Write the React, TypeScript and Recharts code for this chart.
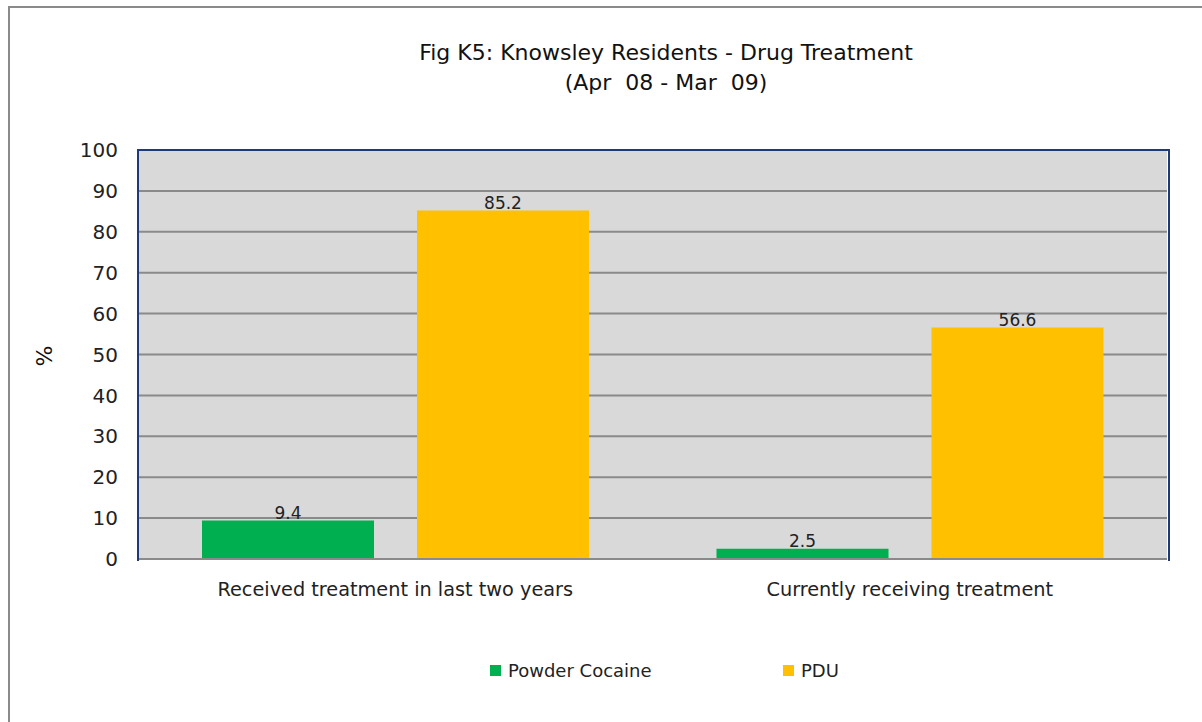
import { BarChart, Bar, XAxis, YAxis, CartesianGrid, LabelList } from "recharts";

const categories = ["Received treatment in last two years", "Currently receiving treatment"];
const powderCocaine = [9.4, 2.5];
const pdu = [85.2, 56.6];
const yTicks = [0, 10, 20, 30, 40, 50, 60, 70, 80, 90, 100];

const data = categories.map((name, i) => ({
  name,
  cocaine: powderCocaine[i],
  pdu: pdu[i],
}));

const GREEN = "#00B050";
const YELLOW = "#FFC000";
const NAVY = "#1F3A7A";
const FONT = "'DejaVu Sans', sans-serif";

export default function App() {
  return (
    <div style={{ position: "absolute", left: 0, top: 0, width: 1202, height: 722, overflow: "hidden", background: "#fff", fontFamily: FONT }}>
      <div
        style={{
          position: "absolute",
          left: 8,
          top: 6,
          width: 1210,
          height: 730,
          border: "2px solid #8a8a8a",
        }}
      />
      <div
        style={{
          position: "absolute",
          left: 0,
          width: 1332,
          top: 38,
          textAlign: "center",
          fontSize: 22,
          lineHeight: "30px",
          color: "#111",
        }}
      >
        Fig K5: Knowsley Residents - Drug Treatment
        <br />
        (Apr&nbsp; 08 - Mar&nbsp; 09)
      </div>
      <div
        style={{
          position: "absolute",
          left: 32,
          top: 343,
          width: 26,
          height: 26,
          transform: "rotate(-90deg)",
          fontSize: 22,
          textAlign: "center",
          lineHeight: "26px",
          color: "#111",
        }}
      >
        %
      </div>
      <div style={{ position: "absolute", left: 0, top: 0 }}>
        <BarChart
          width={1202}
          height={722}
          data={data}
          margin={{ top: 150, right: 35, bottom: 123, left: 78 }}
          barGap={43}
        >
          <CartesianGrid
            vertical={false}
            fill="#D9D9D9"
            fillOpacity={1}
            stroke="#8a8a8a"
            strokeWidth={2}
          />
          <XAxis
            dataKey="name"
            height={40}
            tickLine={false}
            tickSize={0}
            tickMargin={23}
            axisLine={{ stroke: "#8a8a8a", strokeWidth: 2 }}
            tick={{ fill: "#222", fontSize: 19.3, fontFamily: FONT }}
          />
          <YAxis
            width={60}
            domain={[0, 100]}
            ticks={yTicks}
            interval={0}
            tickLine={false}
            tickSize={0}
            tickMargin={20}
            axisLine={false}
            tick={{ fill: "#222", fontSize: 20, fontFamily: FONT }}
          />
          <Bar dataKey="cocaine" name="Powder Cocaine" fill={GREEN} barSize={172} isAnimationActive={false}>
            <LabelList dataKey="cocaine" position="top" offset={2} fill="#222" fontSize={17} fontFamily={FONT} />
          </Bar>
          <Bar dataKey="pdu" name="PDU" fill={YELLOW} barSize={172} isAnimationActive={false}>
            <LabelList dataKey="pdu" position="top" offset={2} fill="#222" fontSize={17} fontFamily={FONT} />
          </Bar>
        </BarChart>
      </div>
      <div
        style={{
          position: "absolute",
          left: 137,
          top: 149,
          width: 1029,
          height: 410,
          borderLeft: `2px solid ${NAVY}`,
          borderTop: `2px solid ${NAVY}`,
          borderRight: `2px solid ${NAVY}`,
          pointerEvents: "none",
        }}
      />
      <div style={{ position: "absolute", left: 490, top: 660, display: "flex", alignItems: "center", fontSize: 18, color: "#222" }}>
        <span style={{ display: "inline-block", width: 11, height: 11, background: GREEN, marginRight: 7 }} />
        Powder Cocaine
      </div>
      <div style={{ position: "absolute", left: 783, top: 660, display: "flex", alignItems: "center", fontSize: 18, color: "#222" }}>
        <span style={{ display: "inline-block", width: 11, height: 11, background: YELLOW, marginRight: 7 }} />
        PDU
      </div>
    </div>
  );
}
